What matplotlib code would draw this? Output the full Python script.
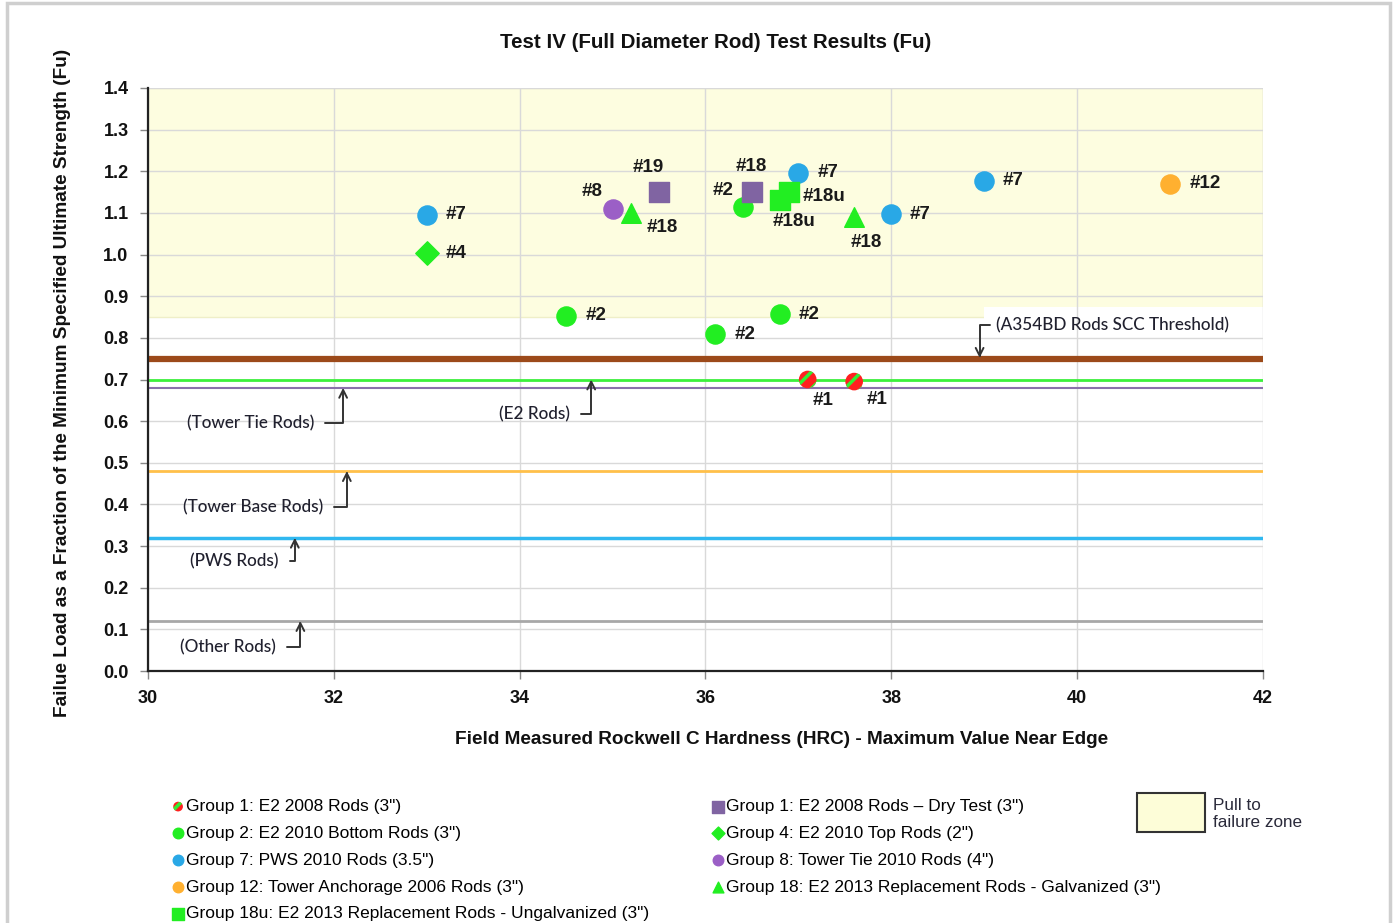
import numpy as np
import matplotlib
matplotlib.use("Agg")
import matplotlib.pyplot as plt
from matplotlib.patches import Rectangle

plt.rcParams['font.family'] = ['Liberation Sans', 'DejaVu Sans']
plt.rcParams['hatch.linewidth'] = 2.5

# ---- data ----
g1_x = [37.1, 37.6]
g1_y = [0.70, 0.695]
g1_lbl = ['#1', '#1']

g1d_x = [35.5, 36.5]
g1d_y = [1.15, 1.15]
g1d_lbl = ['#19', '#18']

g2_x = [34.5, 36.1, 36.8, 36.4]
g2_y = [0.853, 0.809, 0.857, 1.114]
g2_lbl = ['#2', '#2', '#2', '#2']

g4_x = [33.0]
g4_y = [1.003]
g4_lbl = ['#4']

g7_x = [33.0, 37.0, 38.0, 39.0]
g7_y = [1.096, 1.196, 1.097, 1.177]
g7_lbl = ['#7', '#7', '#7', '#7']

g8_x = [35.0]
g8_y = [1.109]
g8_lbl = ['#8']

g12_x = [41.0]
g12_y = [1.17]
g12_lbl = ['#12']

g18_x = [35.2, 37.6]
g18_y = [1.10, 1.09]
g18_lbl = ['#18', '#18']

g18u_x = [36.8, 36.9]
g18u_y = [1.131, 1.150]
g18u_lbl = ['#18u', '#18u']

# reference lines (name, level)
ref_names = ['A354BD', 'E2', 'Tower Tie', 'Tower Base', 'PWS', 'Other']
ref_levels = [0.75, 0.70, 0.68, 0.48, 0.32, 0.12]

zone_low, zone_high = 0.85, 1.4

# label offsets in pixels (dx, dy) from each point
g1_off = [(15, -21), (23, -18)]
g1d_off = [(-11, 25), (-1, 26)]
g2_off = [(30, 0), (30, 0), (29, 0), (-20, 17)]
g4_off = [(29, 0)]
g7_off = [(29, 0), (30, 0), (29, 0), (29, 0)]
g8_off = [(-20, 18)]
g12_off = [(35, 0)]
g18_off = [(31, -15), (12, -25)]
g18u_off = [(14, -21), (35, -4)]

fig = plt.figure(figsize=(13.96, 9.23), dpi=100)
ax = fig.add_axes([148/1396, 1-671/923, (1263-148)/1396, (671-88)/923])

ax.set_xlim(30, 42)
ax.set_ylim(0, 1.4)
ax.set_xticks(np.arange(30, 43, 2))
ax.set_yticks(np.arange(0, 1.41, 0.1))
ax.set_yticklabels([f"{v:.1f}" for v in np.arange(0, 1.41, 0.1)])
ax.set_axisbelow(True)
ax.grid(True, color='#d9d9d9', lw=1.0)
for s in ['top', 'right']:
    ax.spines[s].set_visible(False)
ax.spines['left'].set_linewidth(1.6)
ax.spines['bottom'].set_linewidth(1.6)
ax.spines['left'].set_color('#222222')
ax.spines['bottom'].set_color('#222222')
ax.tick_params(axis='both', length=6, width=1, color='#888888', labelsize=13, pad=8)
for t in ax.get_xticklabels() + ax.get_yticklabels():
    t.set_fontweight('bold')
    t.set_color('#111111')

# pull to failure zone
ax.axhspan(zone_low, zone_high, color='#fdfde0', ec='#efefc8', zorder=0)
# white text box of the threshold label cuts into the zone
ax.add_patch(Rectangle((39.0, 0.80), 3.0, 0.075, fc='white', ec='none', zorder=0.2))

# reference lines
ref_colors = ['#9c4a1a', '#3cf03c', '#8a70ab', '#ffc04a', '#30b8f0', '#a8a8a8']
ref_widths = [4.5, 2.0, 1.5, 2.0, 2.5, 2.0]
for lvl, c, w in zip(ref_levels, ref_colors, ref_widths):
    ax.axhline(lvl, color=c, lw=w, zorder=2)

# annotations
afont = dict(family=['Lato', 'DejaVu Sans'], fontsize=12.3, color='#20202e', fontweight='medium')
aprops = dict(arrowstyle='->', color='#333333', lw=1.4, mutation_scale=14,
              connectionstyle='angle,angleA=0,angleB=90,rad=0', shrinkA=6, shrinkB=0)
ann = [('(Tower Tie Rods)', (32.10, 0.68), (31.10, 0.596)),
       ('(E2 Rods)', (34.77, 0.70), (34.16, 0.617)),
       ('(Tower Base Rods)', (32.14, 0.48), (31.13, 0.394)),
       ('(PWS Rods)', (31.58, 0.32), (30.93, 0.264)),
       ('(Other Rods)', (31.64, 0.12), (30.86, 0.058))]
for txt, tip, pos in ann:
    ax.annotate(txt, xy=tip, xytext=pos, ha='center', va='center',
                arrowprops=aprops, zorder=4, **afont)

ax.annotate('(A354BD Rods SCC Threshold)', xy=(38.95, 0.752), xytext=(40.38, 0.831),
            ha='center', va='center', arrowprops={**aprops, 'shrinkA': 2}, zorder=4, **afont)

# scatter groups
S = 190
sc1 = ax.scatter(g1_x, g1_y, s=S*0.85, marker='o', facecolor='#ff2020', edgecolors='#33ee33',
                 linewidths=0, hatch='//', zorder=5, label='Group 1: E2 2008 Rods (3")')
sc2 = ax.scatter(g2_x, g2_y, s=S, marker='o', color='#22ee22', zorder=5,
                 label='Group 2: E2 2010 Bottom Rods (3")')
sc7 = ax.scatter(g7_x, g7_y, s=S, marker='o', color='#29a8e6', zorder=5,
                 label='Group 7: PWS 2010 Rods (3.5")')
sc12 = ax.scatter(g12_x, g12_y, s=S, marker='o', color='#ffb030', zorder=5,
                  label='Group 12: Tower Anchorage 2006 Rods (3")')
sc18u = ax.scatter(g18u_x, g18u_y, s=S*1.1, marker='s', color='#22ee22', zorder=5,
                   label='Group 18u: E2 2013 Replacement Rods - Ungalvanized (3")')
sc1d = ax.scatter(g1d_x, g1d_y, s=S*1.1, marker='s', color='#8064a2', zorder=5,
                  label='Group 1: E2 2008 Rods \u2013 Dry Test (3")')
sc4 = ax.scatter(g4_x, g4_y, s=S*0.75, marker='D', color='#22ee22', zorder=5,
                 label='Group 4: E2 2010 Top Rods (2")')
sc8 = ax.scatter(g8_x, g8_y, s=S, marker='o', color='#9b5fc6', zorder=5,
                 label='Group 8: Tower Tie 2010 Rods (4")')
sc18 = ax.scatter(g18_x, g18_y, s=S*1.05, marker='^', color='#22ee22', zorder=5,
                  label='Group 18: E2 2013 Replacement Rods - Galvanized (3")')

# point labels
groups = [(g1_x, g1_y, g1_lbl, g1_off), (g1d_x, g1d_y, g1d_lbl, g1d_off),
          (g2_x, g2_y, g2_lbl, g2_off), (g4_x, g4_y, g4_lbl, g4_off),
          (g7_x, g7_y, g7_lbl, g7_off), (g8_x, g8_y, g8_lbl, g8_off),
          (g12_x, g12_y, g12_lbl, g12_off), (g18_x, g18_y, g18_lbl, g18_off),
          (g18u_x, g18u_y, g18u_lbl, g18u_off)]
for xs, ys, lbls, offs in groups:
    for x, y, l, (dx, dy) in zip(xs, ys, lbls, offs):
        ax.annotate(l, xy=(x, y), xytext=(dx*0.72, dy*0.72), textcoords='offset points',
                    ha='center', va='center', fontsize=13.5, fontweight='bold',
                    color='#1a1a1a', zorder=6)

# titles
fig.text(716/1396, 1-43/923, 'Test IV (Full Diameter Rod) Test Results (Fu)',
         ha='center', va='center', fontsize=14.8, fontweight='bold',
         family=['Liberation Sans Narrow', 'Liberation Sans'], color='#111111')
fig.text(782/1396, 1-739/923, 'Field Measured Rockwell C Hardness (HRC) - Maximum Value Near Edge',
         ha='center', va='center', fontsize=13.7, fontweight='bold', color='#111111')
fig.text(63/1396, 1-383/923,
         'Failue Load as a Fraction of the Minimum Specified Ultimate Strength (Fu)',
         ha='center', va='center', rotation=90, fontsize=13.7, fontweight='bold', color='#111111')

# legends
lkw = dict(frameon=False, fontsize=12.5, handlelength=0.7, handletextpad=0.12,
           borderpad=0, borderaxespad=0, labelspacing=0.67, markerscale=0.55,
           scatterpoints=1, loc='upper left')
leg1 = fig.legend(handles=[sc1, sc2, sc7, sc12, sc18u], bbox_to_anchor=(172/1396, 1-799/923), **lkw)
leg2 = fig.legend(handles=[sc1d, sc4, sc8, sc18], bbox_to_anchor=(712/1396, 1-799/923), **lkw)

# zone legend box
fig.add_artist(Rectangle((1137/1396, 1-832/923), 68/1396, 39/923, transform=fig.transFigure,
                         fc='#fdfdd8', ec='#333333', lw=1.5))
fig.text(1213/1396, 1-814/923, 'Pull to\nfailure zone', ha='left', va='center',
         fontsize=12.3, color='#2a2a3a', linespacing=1.2)

# outer frame
fig.add_artist(Rectangle((7/1396, -0.05), (1390-7)/1396, 1.05-3/923, transform=fig.transFigure,
                         fill=False, ec='#cfcfcf', lw=2.5))

fig.savefig('out.png', dpi=100)
